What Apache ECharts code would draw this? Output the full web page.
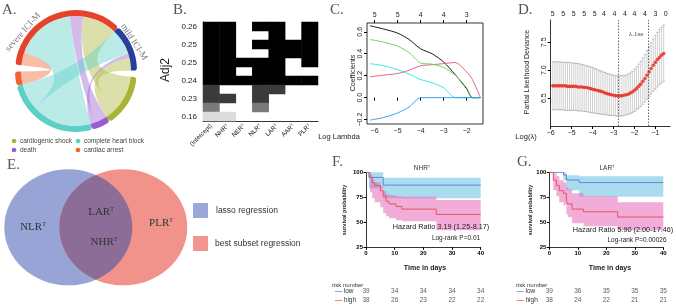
<!DOCTYPE html>
<html>
<head>
<meta charset="utf-8">
<script src="https://cdn.jsdelivr.net/npm/echarts@6.0.0/dist/echarts.min.js"></script>
<style>
  html, body { margin: 0; padding: 0; background: #fff; }
  #chart-container { width: 676px; height: 305px; }
</style>
</head>
<body>
<div id="chart-container"></div>
<script>
var dom = document.getElementById('chart-container');
var myChart = echarts.init(dom, null, { renderer: 'canvas', useDirtyRect: false });

// A. severity -> event (chord)
var chordGroups = ['severe ICI-M', 'mild ICI-M'];
var chordEvents = ['cardiogenic shock', 'death', 'complete heart block', 'cardiac arrest'];
var chordSevere = [8, 3, 14, 3];
var chordMild = [3, 1, 6, 0];

// B. best subset selection
var bsVars = ['(Intercept)', 'NHR', 'NER', 'NLR', 'LAR', 'AAR', 'PLR'];
var bsAdjr2 = [0.262, 0.258, 0.254, 0.252, 0.249, 0.243, 0.240, 0.232, 0.230, 0.203, 0.162];
var bsIncluded = [
  [1, 1, 0, 1, 1, 0, 1],
  [1, 1, 0, 0, 1, 0, 1],
  [1, 1, 0, 1, 1, 1, 1],
  [1, 1, 0, 0, 1, 1, 1],
  [1, 1, 1, 1, 1, 0, 1],
  [1, 1, 0, 1, 1, 0, 0],
  [1, 1, 1, 1, 1, 1, 1],
  [1, 0, 0, 1, 1, 0, 0],
  [1, 1, 0, 1, 0, 0, 0],
  [1, 0, 0, 1, 0, 0, 0],
  [1, 1, 0, 0, 0, 0, 0]
];

// C. lasso coefficient paths
var lassoLogLambda = [-6.2, -5.6, -5, -4.5, -4, -3.5, -3, -2.5, -2, -1.75, -1.4];
var lassoBlack = [0.655, 0.625, 0.588, 0.53, 0.445, 0.40, 0.325, 0.21, 0.08, 0, 0];
var lassoGreen = [0.53, 0.505, 0.47, 0.41, 0.315, 0.305, 0.275, 0.205, 0.09, 0, 0];
var lassoCyan = [0.31, 0.29, 0.255, 0.215, 0.165, 0.135, 0.09, 0, 0, 0, 0];
var lassoRed = [0.19, 0.205, 0.22, 0.25, 0.29, 0.30, 0.31, 0.32, 0.235, 0.165, 0];
var lassoBlue = [-0.205, -0.18, -0.14, -0.085, 0, 0, 0, 0, 0, 0, 0];
var lassoTicks = [-6, -5, -4, -3, -2];
var lassoTopCounts = [5, 5, 4, 4, 3];

// D. cross-validation
var cvLogLambda = [-5.9, -5.8, -5.7, -5.6, -5.5, -5.4, -5.3, -5.2, -5.1, -5.0,
  -4.9, -4.8, -4.7, -4.6, -4.5, -4.4, -4.3, -4.2, -4.1, -4.0,
  -3.9, -3.8, -3.7, -3.6, -3.5, -3.4, -3.3, -3.2, -3.1, -3.0,
  -2.9, -2.8, -2.7, -2.6, -2.5, -2.4, -2.3, -2.2, -2.1, -2.0,
  -1.9, -1.8, -1.7, -1.6, -1.5, -1.4, -1.3, -1.2, -1.1, -1.0,
  -0.9, -0.8, -0.7, -0.6];
var cvMean = [6.72, 6.72, 6.72, 6.72, 6.72, 6.72, 6.72, 6.71, 6.71, 6.71,
  6.71, 6.71, 6.70, 6.70, 6.70, 6.69, 6.69, 6.68, 6.67, 6.66,
  6.65, 6.64, 6.63, 6.62, 6.61, 6.59, 6.58, 6.57, 6.56, 6.55,
  6.54, 6.54, 6.54, 6.54, 6.55, 6.56, 6.57, 6.59, 6.61, 6.64,
  6.67, 6.71, 6.75, 6.80, 6.85, 6.91, 6.97, 7.03, 7.09, 7.14,
  7.19, 7.23, 7.27, 7.30];
var cvUpper = [7.15, 7.15, 7.15, 7.15, 7.15, 7.14, 7.14, 7.14, 7.14, 7.13,
  7.13, 7.12, 7.12, 7.11, 7.10, 7.09, 7.08, 7.07, 7.06, 7.05,
  7.03, 7.02, 7.00, 6.99, 6.97, 6.96, 6.94, 6.93, 6.92, 6.91,
  6.90, 6.90, 6.90, 6.90, 6.90, 6.91, 6.93, 6.95, 6.98, 7.02,
  7.06, 7.11, 7.16, 7.22, 7.28, 7.35, 7.42, 7.49, 7.56, 7.62,
  7.68, 7.73, 7.77, 7.81];
var cvLower = [6.29, 6.29, 6.29, 6.29, 6.29, 6.29, 6.28, 6.28, 6.28, 6.28,
  6.28, 6.28, 6.27, 6.27, 6.27, 6.26, 6.26, 6.25, 6.24, 6.24,
  6.23, 6.22, 6.22, 6.21, 6.21, 6.20, 6.20, 6.19, 6.19, 6.19,
  6.18, 6.18, 6.18, 6.18, 6.19, 6.20, 6.21, 6.22, 6.24, 6.26,
  6.29, 6.32, 6.35, 6.39, 6.43, 6.48, 6.53, 6.57, 6.62, 6.66,
  6.70, 6.74, 6.77, 6.80];
var cvLambdaMin = -2.78;
var cvLambda1se = -1.35;
var cvTicks = [-6, -5, -4, -3, -2, -1];
var cvTopTicks = [-5.9, -5.4, -4.9, -4.4, -3.9, -3.45, -2.95, -2.45, -2.0, -1.5, -1.0, -0.5];
var cvTopCounts = [5, 5, 5, 5, 5, 4, 4, 4, 4, 4, 3, 0];

// E. venn
var vennLassoOnly = ['NLR'];
var vennBoth = ['LAR', 'NHR'];
var vennSubsetOnly = ['PLR'];

// F. NHR Kaplan-Meier
var nhrLowT = [0, 1, 6, 40];
var nhrLowS = [100, 94.9, 87.2, 87.2];
var nhrLowLo = [100, 84, 74, 74];
var nhrLowUp = [100, 100, 94.6, 94.6];
var nhrHighT = [0, 1.4, 2.2, 3, 5, 6, 7, 8, 10.5, 12.5, 24.5, 40];
var nhrHighS = [100, 94.7, 89.5, 86.8, 81.6, 76.3, 71.1, 68.4, 65.8, 63.2, 57.9, 57.9];
var nhrHighLo = [100, 80, 74, 70, 65, 59, 56, 54, 52, 51, 42, 42];
var nhrHighUp = [100, 97, 93, 90, 86, 81, 78, 77, 76, 75.6, 72.3, 72.3];
var riskT = [0, 10, 20, 30, 40];
var nhrRiskLow = [39, 34, 34, 34, 34];
var nhrRiskHigh = [38, 26, 23, 22, 22];

// G. LAR Kaplan-Meier
var larLowT = [0, 5, 6, 10.5, 40];
var larLowS = [100, 97.4, 92.3, 89.7, 89.7];
var larLowLo = [100, 92, 82, 75.5, 75.5];
var larLowUp = [100, 100, 97, 96, 96];
var larHighT = [0, 1.4, 2.5, 3.5, 5, 6, 6.5, 8, 12, 24, 40];
var larHighS = [100, 92.1, 86.8, 81.6, 78.9, 71.1, 68.4, 63.2, 60.5, 55.3, 55.3];
var larHighLo = [100, 82, 76, 70, 67, 58, 55, 49, 46, 42, 42];
var larHighUp = [100, 99, 96, 92, 90, 85, 83, 79, 76, 70, 70];
var larRiskLow = [39, 36, 35, 35, 35];
var larRiskHigh = [38, 24, 22, 21, 21];

var SANS = '"Liberation Sans", Arial, sans-serif';
var SERIF = '"Liberation Serif", "DejaVu Serif", serif';

// ---------- chord
var chordColor = {
  'severe ICI-M': '#e5412b', 'mild ICI-M': '#283f9c',
  'cardiogenic shock': '#a9b435', 'death': '#9a5bd2',
  'complete heart block': '#5ecfc6', 'cardiac arrest': '#f0622e'
};
var chordNodes = [chordGroups[0], chordGroups[1], 'gapR']
  .concat(chordEvents).concat(['gapL'])
  .map(function (n) {
    return { name: n, itemStyle: { color: chordColor[n] || 'rgba(0,0,0,0)' } };
  });
var chordLinks = [];
[3, 2, 1, 0].forEach(function (i) {
  if (chordSevere[i]) chordLinks.push({ source: chordGroups[0], target: chordEvents[i], value: chordSevere[i] });
});
[2, 1, 0].forEach(function (i) {
  if (chordMild[i]) chordLinks.push({ source: chordGroups[1], target: chordEvents[i], value: chordMild[i] });
});
chordLinks.push({ source: 'gapR', target: 'gapL', value: 1.4, lineStyle: { opacity: 0 } });

// ---------- KM helpers
function kmBand(t, lo, up, xi, yi, color) {
  return {
    type: 'custom', xAxisIndex: xi, yAxisIndex: yi, silent: true, z: 1,
    data: [[t[0], lo[0]]],
    renderItem: function (params, api) {
      var top = [], bot = [];
      for (var i = 0; i < t.length - 1; i++) {
        top.push(api.coord([t[i], up[i]]), api.coord([t[i + 1], up[i]]));
        bot.push(api.coord([t[i], lo[i]]), api.coord([t[i + 1], lo[i]]));
      }
      return { type: 'polygon', shape: { points: top.concat(bot.reverse()) }, style: { fill: color } };
    }
  };
}
function kmLine(t, s, xi, yi, color) {
  return {
    type: 'line', xAxisIndex: xi, yAxisIndex: yi, step: 'end', symbol: 'none',
    silent: true, z: 3, lineStyle: { color: color, width: 1 },
    data: t.map(function (x, i) { return [x, s[i]]; })
  };
}
function riskSeries(low, high, xi, yi) {
  var d = [];
  riskT.forEach(function (x, i) { d.push([x, 'low', low[i]]); d.push([x, 'high', high[i]]); });
  return {
    type: 'scatter', xAxisIndex: xi, yAxisIndex: yi, symbolSize: 0, silent: true,
    data: d,
    label: {
      show: true, position: 'inside', color: '#333', fontSize: 6.5, fontFamily: SANS,
      formatter: function (p) { return p.value[2]; }
    }
  };
}
var kmBlue = '#6b7fd2';
var kmRed = '#e8545e';
var cyanBand = '#aadcf0';
var pinkBand = 'rgba(228,96,180,0.52)';

function kmAxes(grid, margin) {
  return {
    x: {
      type: 'value', gridIndex: grid, min: 0, max: 40, interval: 10,
      axisLine: { lineStyle: { color: '#000', width: 0.8 } },
      axisTick: { length: 2.5, lineStyle: { color: '#000' } },
      axisLabel: { fontSize: 6, fontWeight: 'bold', color: '#000', margin: 3, fontFamily: SANS },
      splitLine: { show: false }
    },
    y: {
      type: 'value', gridIndex: grid, min: 25, max: 100, interval: 25,
      axisLine: { show: true, lineStyle: { color: '#000', width: 0.8 } },
      axisTick: { show: true, length: 2.5, lineStyle: { color: '#000' } },
      axisLabel: { fontSize: 6, fontWeight: 'bold', color: '#000', margin: 3, fontFamily: SANS },
      splitLine: { show: false }
    },
    rx: { type: 'value', gridIndex: grid + 1, min: 0, max: 40, show: false },
    ry: {
      type: 'category', gridIndex: grid + 1, data: ['high', 'low'],
      axisLine: { show: false }, axisTick: { show: false },
      axisLabel: {
        align: 'left', margin: margin, fontSize: 6.5, color: '#333', fontFamily: SANS,
        formatter: function (v) { return v === 'low' ? '{b|—} low' : '{r|—} high'; },
        rich: {
          b: { color: kmBlue, fontSize: 7, fontWeight: 'bold' },
          r: { color: kmRed, fontSize: 7, fontWeight: 'bold' }
        }
      }
    }
  };
}
var kmF = kmAxes(4, 31);
var kmG = kmAxes(6, 32.6);

// ---------- series
var series = [];
series.push({
  type: 'chord',
  center: [76, 71],
  radius: [55, 61],
  startAngle: 174,
  clockwise: true,
  padAngle: 0,
  minAngle: 0,
  silent: true,
  label: { show: false },
  itemStyle: { borderWidth: 0 },
  lineStyle: { color: 'target', opacity: 0.42 },
  data: chordNodes,
  links: chordLinks
});

var heatIndex = series.length;
var heatData = [];
bsIncluded.forEach(function (row, r) {
  row.forEach(function (v, c) { if (v) heatData.push([c, r, bsAdjr2[r]]); });
});
series.push({ type: 'heatmap', xAxisIndex: 0, yAxisIndex: 0, data: heatData, silent: true });

var lassoSets = [[lassoBlack, '#000000'], [lassoRed, '#DF536B'], [lassoGreen, '#61D04F'],
  [lassoCyan, '#28E2E5'], [lassoBlue, '#2297E6']];
lassoSets.forEach(function (s) {
  series.push({
    type: 'line', xAxisIndex: 1, yAxisIndex: 1, symbol: 'none', smooth: 0.25, silent: true,
    lineStyle: { color: s[1], width: 0.9 },
    data: lassoLogLambda.map(function (x, i) { return [x, s[0][i]]; })
  });
});

series.push({
  type: 'custom', xAxisIndex: 3, yAxisIndex: 2, silent: true,
  data: cvLogLambda.map(function (x, i) { return [x, cvLower[i], cvUpper[i]]; }),
  encode: { x: 0, y: [1, 2] },
  renderItem: function (params, api) {
    var top = api.coord([api.value(0), api.value(2)]);
    var bot = api.coord([api.value(0), api.value(1)]);
    return {
      type: 'group', children: [
        { type: 'line', shape: { x1: top[0], y1: top[1], x2: bot[0], y2: bot[1] }, style: { stroke: '#c4c4c4', lineWidth: 0.8 } },
        { type: 'line', shape: { x1: top[0] - 1.2, y1: top[1], x2: top[0] + 1.2, y2: top[1] }, style: { stroke: '#a8a8a8', lineWidth: 0.8 } },
        { type: 'line', shape: { x1: bot[0] - 1.2, y1: bot[1], x2: bot[0] + 1.2, y2: bot[1] }, style: { stroke: '#a8a8a8', lineWidth: 0.8 } }
      ]
    };
  }
});
series.push({
  type: 'scatter', xAxisIndex: 3, yAxisIndex: 2, symbolSize: 3.6, silent: true,
  itemStyle: { color: '#e8281c' }, z: 4,
  data: cvLogLambda.map(function (x, i) { return [x, cvMean[i]]; }),
  markLine: {
    silent: true, symbol: 'none', label: { show: false },
    lineStyle: { color: '#444', type: [1.5, 1.5], width: 0.8 },
    data: [{ xAxis: cvLambdaMin }, { xAxis: cvLambda1se }]
  }
});

// venn: two ellipses and their overlap
var vennCenters = [[65.3, 58.7], [120.3, 58.7]];
series.push({
  type: 'custom', xAxisIndex: 5, yAxisIndex: 3, silent: true, z: 1,
  data: [[0], [1]],
  renderItem: function (params, api) {
    var k = api.value(0);
    var c = api.coord(vennCenters[k]);
    var sz = api.size([64, 58]);
    var rx = sz[0], ry = sz[1];
    var fills = ['#97a4d5', '#f1938b'];
    var el = {
      type: 'circle', x: c[0], y: c[1], scaleX: rx / ry, scaleY: 1,
      shape: { cx: 0, cy: 0, r: ry }, style: { fill: fills[k] }
    };
    if (k === 0) return el;
    var c1 = api.coord(vennCenters[0]);
    var dx = (c[0] - c1[0]) / 2;
    var th0 = Math.acos(dx / rx);
    var pts = [];
    var n = 40, i, th;
    for (i = 0; i <= n; i++) {
      th = -th0 + 2 * th0 * i / n;
      pts.push([c1[0] + rx * Math.cos(th), c1[1] + ry * Math.sin(th)]);
    }
    for (i = 0; i <= n; i++) {
      th = th0 - 2 * th0 * i / n;
      pts.push([c[0] - rx * Math.cos(th), c[1] + ry * Math.sin(th)]);
    }
    return {
      type: 'group', children: [el,
        { type: 'polygon', shape: { points: pts }, style: { fill: '#8c6d97' } }]
    };
  }
});

// F
series.push(kmBand(nhrLowT, nhrLowLo, nhrLowUp, 6, 4, cyanBand));
series.push(kmBand(nhrHighT, nhrHighLo, nhrHighUp, 6, 4, pinkBand));
series.push(kmLine(nhrLowT, nhrLowS, 6, 4, kmBlue));
series.push(kmLine(nhrHighT, nhrHighS, 6, 4, kmRed));
series.push(riskSeries(nhrRiskLow, nhrRiskHigh, 7, 5));
// G
series.push(kmBand(larLowT, larLowLo, larLowUp, 8, 6, cyanBand));
series.push(kmBand(larHighT, larHighLo, larHighUp, 8, 6, pinkBand));
series.push(kmLine(larLowT, larLowS, 8, 6, kmBlue));
series.push(kmLine(larHighT, larHighS, 8, 6, kmRed));
series.push(riskSeries(larRiskLow, larRiskHigh, 9, 7));

// ---------- text / graphics
function txt(x, y, text, font, opts) {
  opts = opts || {};
  return {
    type: 'text', x: x, y: y, rotation: opts.rotation || 0, silent: true, z: 100,
    style: {
      text: text, font: font, fill: opts.fill || '#333',
      align: opts.align || 'left', verticalAlign: opts.va || 'middle',
      rich: opts.rich
    }
  };
}
var g = [];
[['A.', 2, 10], ['B.', 173, 10], ['C.', 330, 10], ['D.', 518, 10], ['E.', 7, 165], ['F.', 332, 162], ['G.', 517, 162]]
  .forEach(function (l) { g.push(txt(l[1], l[2], l[0], '15px ' + SERIF, { fill: '#555' })); });

// A labels + legend
g.push(txt(23, 32, 'severe ICI-M', '9px ' + SERIF, { fill: '#777', align: 'center', rotation: 0.85 }));
g.push(txt(134, 42, 'mild ICI-M', '9px ' + SERIF, { fill: '#777', align: 'center', rotation: -1.0 }));
[[14, 141, 'cardiogenic shock'], [78, 141, 'complete heart block'], [14, 150, 'death'], [78, 150, 'cardiac arrest']]
  .forEach(function (l) {
    g.push({ type: 'circle', x: l[0], y: l[1], z: 100, shape: { cx: 0, cy: 0, r: 2.3 }, style: { fill: chordColor[l[2]] }, silent: true });
    g.push(txt(l[0] + 6, l[1], l[2], '6.5px ' + SANS, { fill: '#444' }));
  });

// B
g.push(txt(166, 70, 'Adj2', '12px ' + SANS, { fill: '#222', align: 'center', rotation: Math.PI / 2 }));
// C
g.push(txt(353, 73, 'Coefficients', '7px ' + SANS, { fill: '#222', align: 'center', rotation: Math.PI / 2 }));
g.push(txt(339, 137, 'Log Lambda', '7.5px ' + SANS, { fill: '#222', align: 'center' }));
// D
g.push(txt(527, 72, 'Partial Likelihood Deviance', '7px ' + SANS, { fill: '#222', align: 'center', rotation: Math.PI / 2 }));
g.push(txt(526, 137, 'Log(λ)', '7.5px ' + SANS, { fill: '#222', align: 'center' }));
g.push(txt(636, 34, 'λ.1se', '7px ' + SERIF, { fill: '#444', align: 'center' }));

// E
var vennRich = {
  n: { fontSize: 11, fontFamily: SERIF, color: '#333' },
  s: { fontSize: 6, fontFamily: SERIF, color: '#333', verticalAlign: 'top' }
};
g.push(txt(33, 227, '{n|' + vennLassoOnly[0] + '}{s|T}', '11px ' + SERIF, { align: 'center', rich: vennRich }));
g.push(txt(101, 212, '{n|' + vennBoth[0] + '}{s|T}', '11px ' + SERIF, { align: 'center', rich: vennRich }));
g.push(txt(104, 242, '{n|' + vennBoth[1] + '}{s|T}', '11px ' + SERIF, { align: 'center', rich: vennRich }));
g.push(txt(161, 223, '{n|' + vennSubsetOnly[0] + '}{s|T}', '11px ' + SERIF, { align: 'center', rich: vennRich }));
g.push({ type: 'rect', x: 193, y: 203, z: 100, shape: { width: 15, height: 15 }, style: { fill: '#9ba8d8' }, silent: true });
g.push({ type: 'rect', x: 193, y: 236, z: 100, shape: { width: 15, height: 15 }, style: { fill: '#f2978f' }, silent: true });
g.push(txt(216, 211, 'lasso regression', '8.5px ' + SANS, { fill: '#333' }));
g.push(txt(215, 244, 'best subset regression', '8.5px ' + SANS, { fill: '#333' }));

// F / G
var kmRich = {
  n: { fontSize: 6.5, fontFamily: SANS, color: '#222' },
  s: { fontSize: 4, fontFamily: SANS, color: '#222', verticalAlign: 'top' }
};
g.push(txt(422, 168, '{n|NHR}{s|T}', '6.5px ' + SANS, { align: 'center', rich: kmRich }));
g.push(txt(607, 168, '{n|LAR}{s|T}', '6.5px ' + SANS, { align: 'center', rich: kmRich }));
g.push(txt(344, 210, 'survival probability', 'bold 5.5px ' + SANS, { fill: '#222', align: 'center', rotation: Math.PI / 2 }));
g.push(txt(530, 210, 'survival probability', 'bold 5.5px ' + SANS, { fill: '#222', align: 'center', rotation: Math.PI / 2 }));
g.push(txt(425, 268, 'Time in days', 'bold 7px ' + SANS, { fill: '#222', align: 'center' }));
g.push(txt(610, 268, 'Time in days', 'bold 7px ' + SANS, { fill: '#222', align: 'center' }));
g.push(txt(441, 227, 'Hazard Ratio 3.19 (1.25-8.17)', '7.3px ' + SANS, { fill: '#222', align: 'center' }));
g.push(txt(456, 238.5, 'Log-rank P=0.01', '6.5px ' + SANS, { fill: '#222', align: 'center' }));
g.push(txt(623, 230, 'Hazard Ratio 5.90 (2.00-17.46)', '7.3px ' + SANS, { fill: '#222', align: 'center' }));
g.push(txt(637, 240, 'Log-rank P=0.00026', '6.5px ' + SANS, { fill: '#222', align: 'center' }));
g.push(txt(332, 285, 'risk number', '6px ' + SANS, { fill: '#333' }));
g.push(txt(516, 285, 'risk number', '6px ' + SANS, { fill: '#333' }));

var rAxisLabel = { fontSize: 7, color: '#222', fontFamily: SANS, margin: 4 };

var option = {
  animation: false,
  backgroundColor: '#fff',
  grid: [
    { left: 203, top: 22, width: 115, height: 99 },
    { left: 367, top: 23, width: 116, height: 101, show: true, borderColor: '#000', borderWidth: 0.8, backgroundColor: 'transparent' },
    { left: 550.7, top: 20, width: 119.3, height: 106 },
    { left: 3, top: 169, width: 184, height: 117 },
    { left: 366, top: 172.3, width: 114.7, height: 75 },
    { left: 366, top: 286.7, width: 114.7, height: 20 },
    { left: 549.3, top: 172.3, width: 114, height: 75 },
    { left: 549.3, top: 286.7, width: 114, height: 20 }
  ],
  xAxis: [
    {
      type: 'category', gridIndex: 0, data: bsVars,
      axisLine: { lineStyle: { color: '#000', width: 0.8 } },
      axisTick: { alignWithLabel: true, length: 3, lineStyle: { color: '#000' } },
      axisLabel: {
        rotate: 45, fontSize: 6.3, color: '#222', fontFamily: SANS, margin: 4, interval: 0,
        formatter: function (v) { return v.charAt(0) === '(' ? '{n|' + v + '}' : '{n|' + v + '}{s|T}'; },
        rich: { n: { fontSize: 6.3, fontFamily: SANS, color: '#222' }, s: { fontSize: 4, fontFamily: SANS, color: '#222', verticalAlign: 'top' } }
      }
    },
    {
      type: 'value', gridIndex: 1, min: -6.33, max: -1.29,
      axisLine: { show: false }, splitLine: { show: false },
      axisTick: { length: 3, lineStyle: { color: '#000' }, customValues: lassoTicks },
      axisLabel: Object.assign({ customValues: lassoTicks, formatter: function (v) { return String(v).replace('-', '−'); } }, rAxisLabel)
    },
    {
      type: 'value', gridIndex: 1, position: 'top', min: -6.33, max: -1.29,
      axisLine: { show: false }, splitLine: { show: false },
      axisTick: { length: 3, lineStyle: { color: '#000' }, customValues: lassoTicks },
      axisLabel: Object.assign({
        customValues: lassoTicks,
        formatter: function (v) { return lassoTopCounts[lassoTicks.indexOf(Math.round(v))]; }
      }, rAxisLabel)
    },
    {
      type: 'value', gridIndex: 2, min: -6, max: -0.3,
      axisLine: { show: true, onZero: false, lineStyle: { color: '#000', width: 0.8 } }, splitLine: { show: false },
      axisTick: { length: 3, lineStyle: { color: '#000' }, customValues: cvTicks },
      axisLabel: Object.assign({ customValues: cvTicks, formatter: function (v) { return String(v).replace('-', '−'); } }, rAxisLabel)
    },
    {
      type: 'value', gridIndex: 2, position: 'top', min: -6, max: -0.3,
      axisLine: { show: false }, splitLine: { show: false }, axisTick: { show: false },
      axisLabel: Object.assign({
        customValues: cvTopTicks,
        formatter: function (v) {
          var k = 0, best = 1e9;
          cvTopTicks.forEach(function (t, i) { if (Math.abs(t - v) < best) { best = Math.abs(t - v); k = i; } });
          return cvTopCounts[k];
        }
      }, rAxisLabel, { margin: 2 })
    },
    { type: 'value', gridIndex: 3, min: 0, max: 184, show: false },
    kmF.x, kmF.rx, kmG.x, kmG.rx
  ],
  yAxis: [
    {
      type: 'category', gridIndex: 0, inverse: true,
      data: bsAdjr2.map(function (v, i) { return 'r' + i; }),
      axisLine: { lineStyle: { color: '#000', width: 0.8 } },
      axisTick: { alignWithLabel: true, interval: 0, length: 3, lineStyle: { color: '#000' } },
      axisLabel: {
        interval: 1, fontSize: 8, color: '#222', fontFamily: SANS, margin: 6,
        formatter: function (v) { return bsAdjr2[+v.slice(1)].toFixed(2); }
      }
    },
    {
      type: 'value', gridIndex: 1, min: -0.24, max: 0.68,
      axisLine: { show: false }, splitLine: { show: false },
      axisTick: { length: 3, lineStyle: { color: '#000' }, customValues: [-0.2, 0, 0.2, 0.4, 0.6] },
      axisLabel: Object.assign({
        customValues: [-0.2, 0, 0.2, 0.4, 0.6], rotate: 90,
        formatter: function (v) { return v.toFixed(1).replace('-', '−'); }
      }, rAxisLabel, { margin: 3 })
    },
    {
      type: 'value', gridIndex: 2, min: 6.0, max: 7.9,
      axisLine: { show: true, lineStyle: { color: '#000', width: 0.8 } }, splitLine: { show: false },
      axisTick: { length: 3, lineStyle: { color: '#000' }, customValues: [6.5, 7.0, 7.5] },
      axisLabel: Object.assign({
        customValues: [6.5, 7.0, 7.5], rotate: 90,
        formatter: function (v) { return v.toFixed(1); }
      }, rAxisLabel, { margin: 3 })
    },
    { type: 'value', gridIndex: 3, min: 0, max: 117, show: false },
    kmF.y, kmF.ry, kmG.y, kmG.ry
  ],
  visualMap: [{
    type: 'piecewise', show: false, seriesIndex: heatIndex, dimension: 2,
    pieces: [
      { lt: 0.18, color: '#dcdcdc' },
      { gte: 0.18, lt: 0.22, color: '#7a7a7a' },
      { gte: 0.22, lt: 0.236, color: '#3b3b3b' },
      { gte: 0.236, color: '#000000' }
    ]
  }],
  graphic: { elements: g },
  series: series
};

if (option && typeof option === 'object') {
  myChart.setOption(option);
}

window.addEventListener('resize', myChart.resize);
</script>
</body>
</html>
